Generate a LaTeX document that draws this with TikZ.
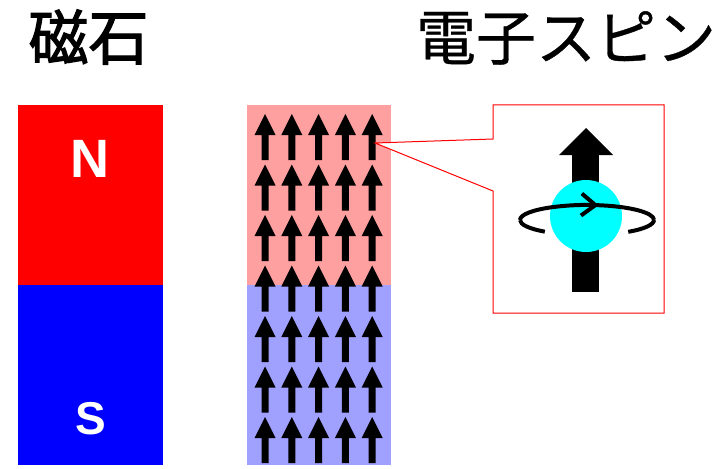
\documentclass[tikz,border=0pt]{standalone}
\usepackage{fontspec}
\setsansfont{Liberation Sans}
\newfontfamily\jpfont{Noto Sans CJK JP}[FakeBold=0.6]
\newfontfamily\jpheavyfont{Noto Sans CJK JP}[FakeBold=2]
\usetikzlibrary{arrows.meta}

\definecolor{northpink}{RGB}{255,160,160}
\definecolor{southblue}{RGB}{160,160,255}
\definecolor{electron}{RGB}{0,255,255}

\begin{document}
\begin{tikzpicture}[x=1pt, y=-1pt,
  title/.style={font=\jpfont\fontsize{60}{64}\selectfont},
  pole/.style={text=white, font=\sffamily\bfseries},
  spin/.pic={\fill (0,0) -- (10.5,21) -- (3.5,21) -- (3.5,46) -- (-3.5,46) -- (-3.5,21) -- (-10.5,21) -- cycle;}]
  \useasboundingbox (0,0) rectangle (722,468);

  % Titles
  \node[title, font=\jpheavyfont\fontsize{60}{64}\selectfont] (magnet title) at (88.5,37) {磁石};
  \node[title] (spin title) at (566,38) {電子スピン};

  % Bar magnet
  \fill[red] (18,105) rectangle (163,285);
  \fill[blue] (18,285) rectangle (163,465);
  \node[pole, font=\sffamily\bfseries\fontsize{54}{60}\selectfont] (north) at (90,158.5) {N};
  \node[pole, font=\sffamily\bfseries\fontsize{46}{50}\selectfont] (south) at (90.5,419) {S};

  % Column of aligned spins
  \fill[northpink] (247,105) rectangle (391,285);
  \fill[southblue] (247,285) rectangle (391,465);
  \foreach \row in {0,...,6}
    \foreach \col in {0,...,4}
      \pic at ({265+26.8*\col},{114+50.5*\row}) {spin};

  % Callout onto one spin
  \coordinate (probe) at (375,143);
  \draw[red, fill=white, line width=1pt]
    (493,105) -- (664,105) -- (664,313) -- (493,313) -- (493,191)
    -- (probe) -- (493,139) -- cycle;

  % Single spin: moment arrow, back of orbit, sphere, front of orbit
  \fill (572,155) rectangle (599,292);
  \fill (559,155) -- (586,128) -- (613,155) -- cycle;
  \draw[line width=4pt] (587,220) ++(180:67 and 15) arc (180:129:67 and 15);
  \draw[line width=4pt] (587,220) ++(52:67 and 15) arc (52:0:67 and 15);
  \node[circle, fill=electron, minimum size=72pt, inner sep=0pt] (electron) at (586,216) {};
  \draw[line width=4pt, -{Straight Barb[length=14pt, width=22pt]}]
    (587,220) ++(180:67 and 15) arc (180:280:67 and 15);
  \draw[line width=4pt] (587,220) ++(278:67 and 15) arc (278:360:67 and 15);
\end{tikzpicture}
\end{document}
